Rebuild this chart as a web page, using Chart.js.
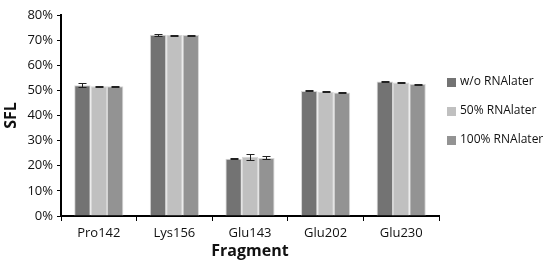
<!DOCTYPE html>
<html>
<head>
<meta charset="utf-8">
<script src="https://cdn.jsdelivr.net/npm/chart.js@4"></script>
<style>
  body { margin: 0; background: #fff; }
  #wrap { width: 548px; height: 266px; }
</style>
</head>
<body>
<div id="wrap"><canvas id="chart" width="548" height="266"></canvas></div>
<script>
const fragments = ["Pro142", "Lys156", "Glu143", "Glu202", "Glu230"];
const seriesNames = ["w/o RNAlater", "50% RNAlater", "100% RNAlater"];
const noRnalater = [52.0, 72.1, 22.8, 49.8, 53.5];
const halfRnalater = [51.6, 72.0, 23.6, 49.5, 53.1];
const fullRnalater = [51.6, 72.0, 23.1, 49.2, 52.5];
const noRnalaterErr = [0.8, 0.3, 0.2, 0.2, 0.2];
const halfRnalaterErr = [0.2, 0.2, 1.2, 0.2, 0.2];
const fullRnalaterErr = [0.2, 0.2, 0.6, 0.2, 0.2];
const yTicks = [0, 10, 20, 30, 40, 50, 60, 70, 80];

const colors = ["#737373", "#c0c0c0", "#939393"];
const font = "Open Sans";

// draws the little error bars on top of each bar
const errorBars = {
  id: "errorBars",
  afterDatasetsDraw(chart) {
    const ctx = chart.ctx;
    const y = chart.scales.y;
    ctx.save();
    ctx.strokeStyle = "#222";
    ctx.lineWidth = 1;
    chart.data.datasets.forEach((ds, i) => {
      const meta = chart.getDatasetMeta(i);
      meta.data.forEach((bar, j) => {
        const v = ds.data[j], e = ds.errors[j];
        const top = Math.round(y.getPixelForValue(v + e)) + 0.5;
        const bot = Math.round(y.getPixelForValue(v - e)) + 0.5;
        const x = Math.round(bar.x) + 0.5;
        ctx.beginPath();
        ctx.moveTo(x, top); ctx.lineTo(x, bot);
        ctx.moveTo(x - 4, top); ctx.lineTo(x + 4, top);
        ctx.moveTo(x - 4, bot); ctx.lineTo(x + 4, bot);
        ctx.stroke();
      });
    });
    ctx.restore();
  }
};

// legend sits right of the plot, a bit above middle like the original
const sideLegend = {
  id: "sideLegend",
  afterDraw(chart) {
    const ctx = chart.ctx;
    const x0 = chart.chartArea.right + 8;
    ctx.save();
    ctx.font = "12px '" + font + "'";
    ctx.textBaseline = "middle";
    chart.data.datasets.forEach((ds, i) => {
      const yc = 82 + i * 29;
      ctx.fillStyle = ds.backgroundColor;
      ctx.fillRect(x0, yc - 4, 9, 9);
      ctx.fillStyle = "#111";
      ctx.fillText(ds.label, x0 + 13, yc);
    });
    ctx.restore();
  }
};

const values = [noRnalater, halfRnalater, fullRnalater];
const errors = [noRnalaterErr, halfRnalaterErr, fullRnalaterErr];

new Chart(document.getElementById("chart"), {
  type: "bar",
  data: {
    labels: fragments,
    datasets: seriesNames.map((name, i) => ({
      label: name,
      data: values[i],
      errors: errors[i],
      backgroundColor: colors[i],
      borderColor: "#d6d6d6",
      borderWidth: 1,
      categoryPercentage: 0.65,
      barPercentage: 1.0
    }))
  },
  options: {
    responsive: false,
    animation: false,
    layout: { padding: { top: 15, right: 109, left: 0, bottom: 0 } },
    plugins: {
      tooltip: { enabled: false },
      legend: { display: false }
    },
    scales: {
      x: {
        afterFit: axis => { axis.height = 50; },
        grid: { display: true, drawOnChartArea: false, color: "#000", tickLength: 5, offset: true },
        border: { color: "#000", width: 2 },
        ticks: { color: "#111", font: { family: font, size: 13 }, padding: 4 },
        title: { display: true, text: "Fragment", color: "#111", font: { family: font, size: 16, weight: "bold" }, padding: { top: 0, bottom: 5 } }
      },
      y: {
        min: 0, max: 80,
        afterFit: axis => { axis.width = 61; },
        afterBuildTicks: axis => { axis.ticks = yTicks.map(v => ({ value: v })); },
        grid: { display: true, drawOnChartArea: false, color: "#000", tickLength: 4 },
        border: { color: "#000", width: 2 },
        ticks: { color: "#111", font: { family: font, size: 13 }, padding: 4, callback: v => v + "%" },
        title: { display: true, text: "SFL", color: "#111", font: { family: font, size: 16, weight: "bold" }, padding: { top: 2, bottom: 0 } }
      }
    }
  },
  plugins: [errorBars, sideLegend]
});
</script>
</body>
</html>
